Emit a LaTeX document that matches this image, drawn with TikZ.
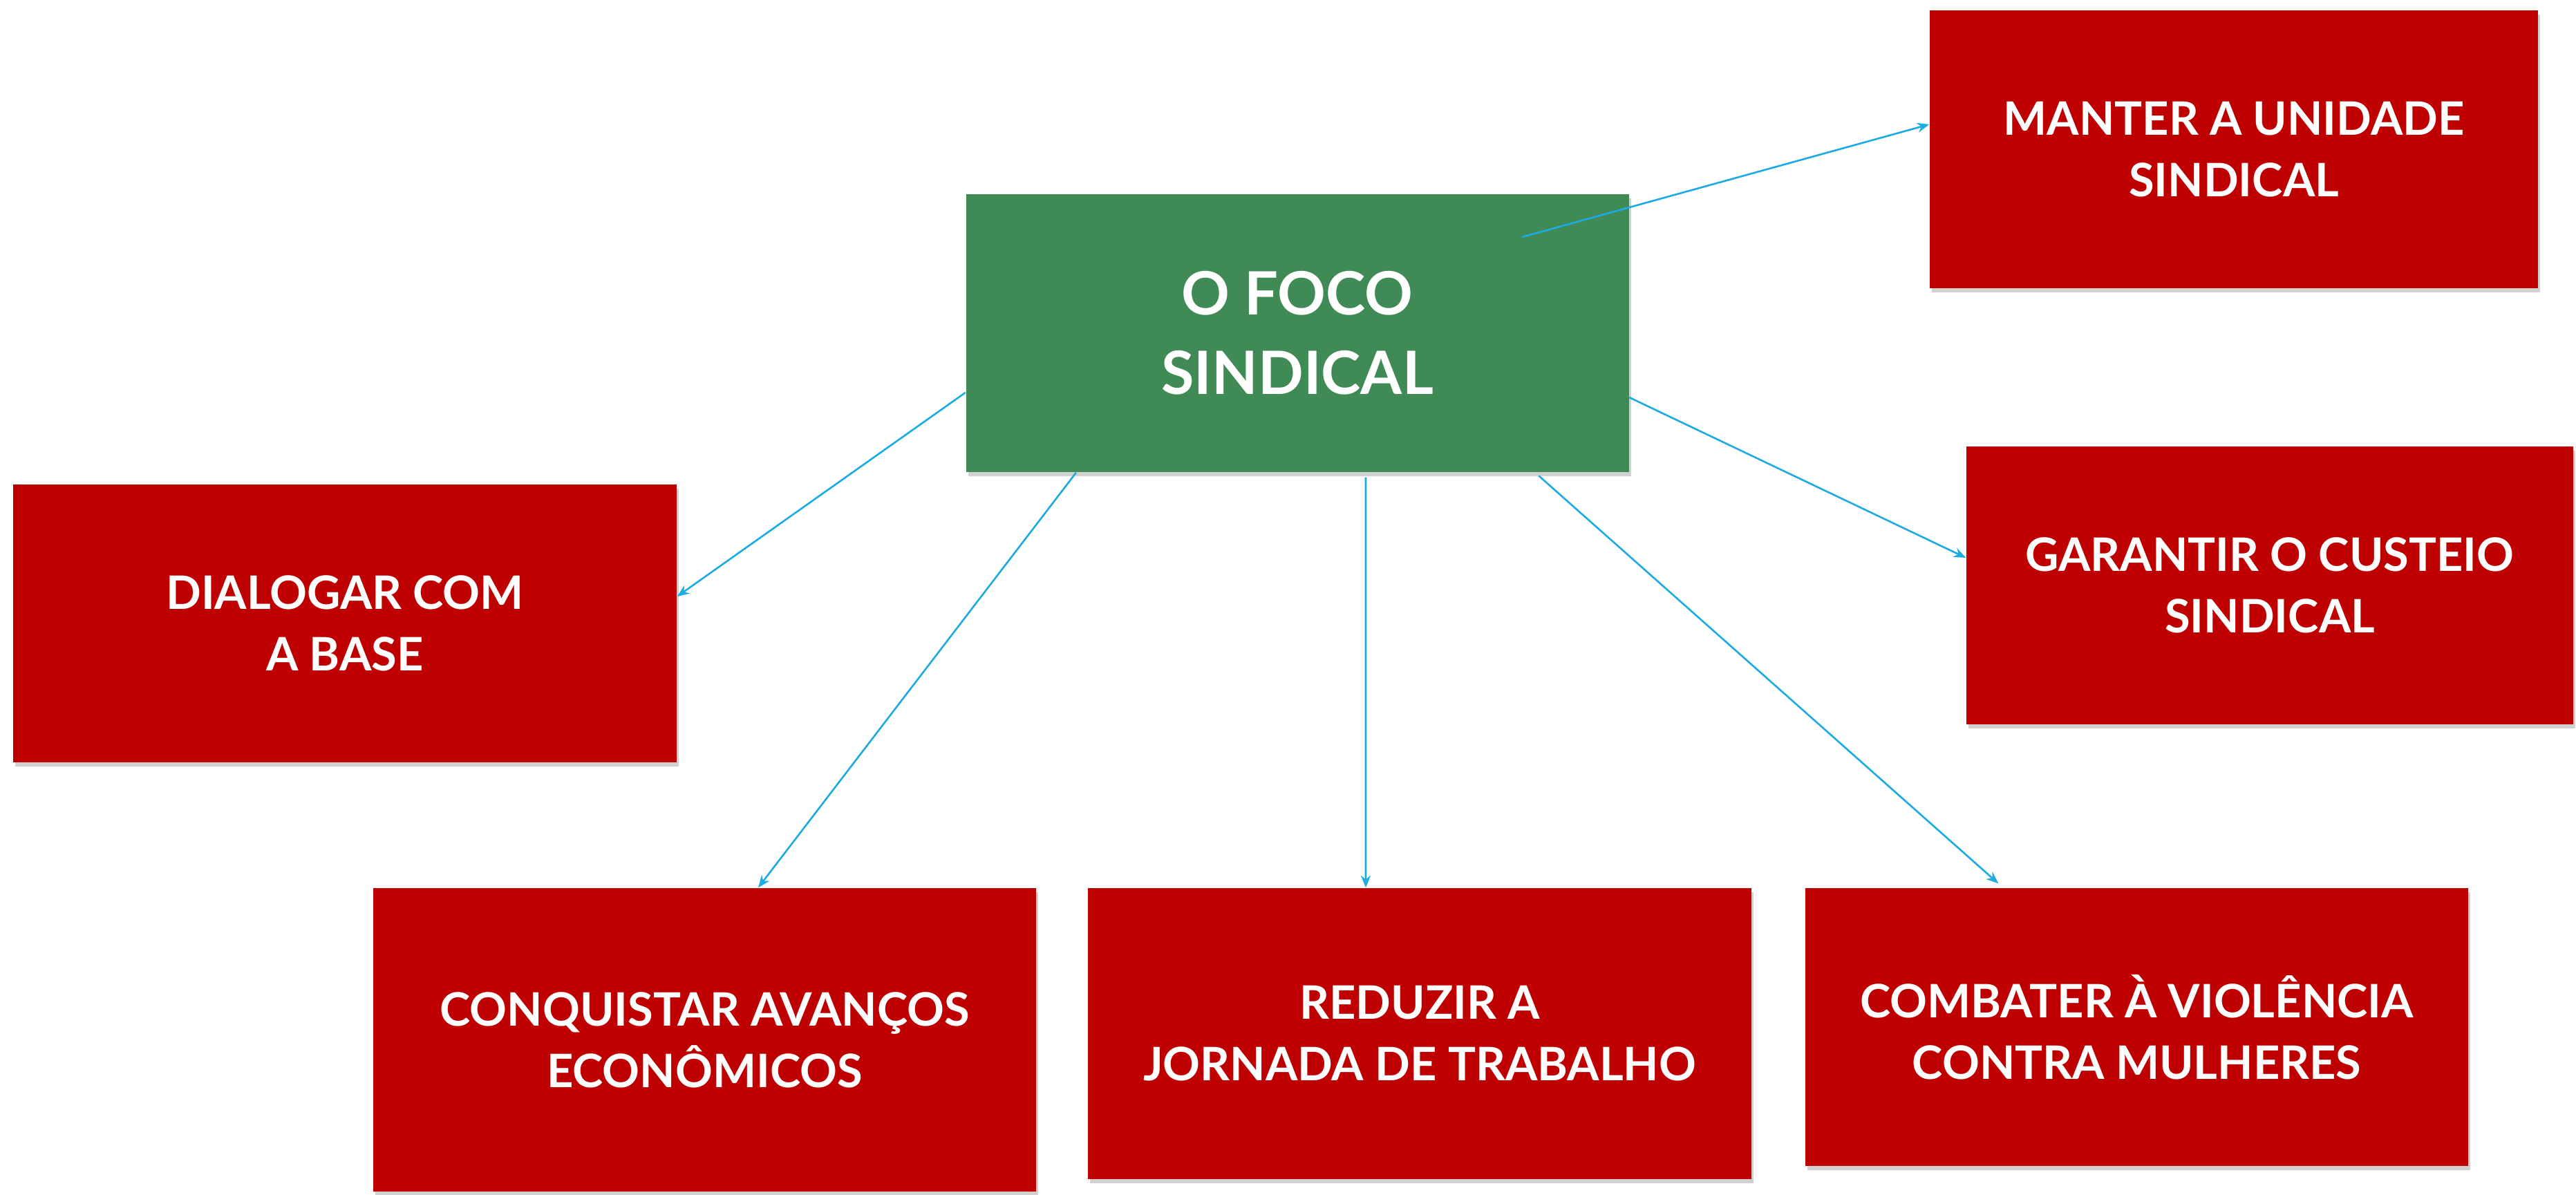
\documentclass[tikz,border=0pt]{standalone}
\usepackage{fontspec}
\setmainfont{Lato}
\definecolor{focogreen}{RGB}{64, 138, 86}
\definecolor{metared}{RGB}{191, 0, 0}
\definecolor{linkblue}{RGB}{29, 171, 226}
\usetikzlibrary{
    arrows.meta,
    positioning,
    calc,
    shadows
}

\begin{document}
\begin{tikzpicture}[
    box/.style={rectangle, inner sep=0pt, align=center, text=white,
        font=\bfseries\fontsize{19pt}{25.3pt}\selectfont,
        minimum width=9.59cm, minimum height=4.02cm,
        drop shadow={shadow xshift=0.03cm, shadow yshift=-0.06cm, fill=black, opacity=0.18}},
    goalbox/.style={box, fill=metared},
    focusbox/.style={box, fill=focogreen, font=\bfseries\fontsize{24.6pt}{32.7pt}\selectfont},
    link/.style={draw=linkblue, line width=0.75pt, -{Stealth[length=5pt, width=4pt]}}
]
    \useasboundingbox (0,0) rectangle (37.27,17.28);

    % Central box
    \node[focusbox] (foco) at (18.77,12.46) {O FOCO\\SINDICAL};

    % Goals around it
    \node[goalbox, minimum width=8.80cm] (manter) at (32.32,15.12) {MANTER A UNIDADE\\SINDICAL};
    \node[goalbox, minimum width=8.78cm] (garantir) at (32.84,8.81) {GARANTIR O CUSTEIO\\SINDICAL};
    \node[goalbox, minimum width=9.60cm] (dialogar) at (4.99,8.26) {DIALOGAR COM\\A BASE};
    \node[goalbox, minimum height=4.39cm] (conquistar) at (10.195,2.235) {CONQUISTAR AVANÇOS\\ECONÔMICOS};
    \node[goalbox, minimum width=9.60cm, minimum height=4.21cm] (reduzir) at (20.54,2.325) {REDUZIR A\\JORNADA DE TRABALHO};
    \node[goalbox] (combater) at (30.915,2.42) {COMBATER À VIOLÊNCIA\\CONTRA MULHERES};

    % Links
    \coordinate (fstart) at ($(foco.center)+(3.25,1.39)$);
    \draw[link] (fstart) -- ([yshift=0.36cm]manter.west);
    \draw[link] (foco.east) ++(0,-0.93) -- ([yshift=0.40cm]garantir.west);
    \draw[link] ([yshift=-0.86cm]foco.west) -- ([yshift=0.39cm]dialogar.east);
    \draw[link] ([xshift=-3.20cm]foco.south) -- ([xshift=0.775cm]conquistar.north);
    \draw[link, shorten <=0.07cm] ([xshift=0.99cm]foco.south) -- ([xshift=-0.78cm]reduzir.north);
    \draw[link, shorten <=0.07cm, shorten >=0.09cm] ([xshift=3.44cm]foco.south) -- ([xshift=-1.935cm]combater.north);
\end{tikzpicture}
\end{document}
